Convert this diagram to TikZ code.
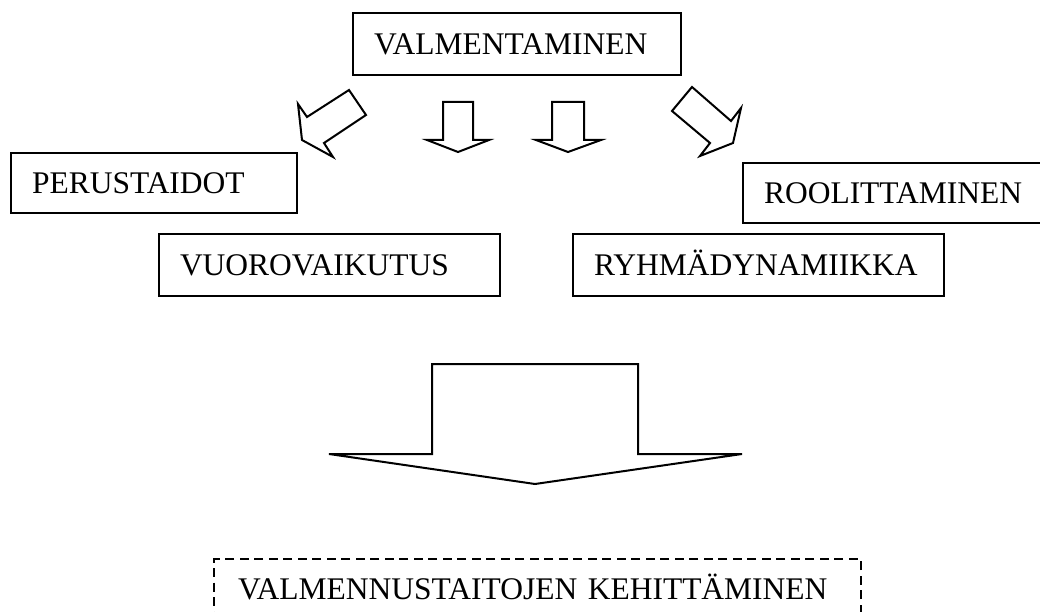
\documentclass[tikz,border=0pt]{standalone}
\usepackage{fontspec}
\setmainfont{Liberation Serif}
\tikzset{
  box/.style={draw, line width=2pt, anchor=north west, inner xsep=21pt, inner ysep=0pt,
    align=left, text height=21pt, text depth=0pt, font=\fontsize{31.5}{36}\selectfont},
  blockarrow/.style={draw, line width=2pt, line join=miter, fill=white}
}
\begin{document}
\begin{tikzpicture}[x=1pt,y=-1pt]
\useasboundingbox (0,0) rectangle (1040,612);
% boxes
\node[box, text width=286pt, minimum height=62pt] (valm) at (352,12) {VALMENTAMINEN};
\node[box, text width=244pt, minimum height=60pt] (perus) at (10,152) {PERUSTAIDOT};
\node[box, text width=268pt, minimum height=60pt] (rooli) at (742,162) {ROOLITTAMINEN};
\node[box, text width=299pt, minimum height=62pt] (vuoro) at (158,233) {VUOROVAIKUTUS};
\node[box, text width=329pt, minimum height=62pt] (ryhma) at (572,233) {RYHMÄDYNAMIIKKA};
\node[box, dash pattern=on 9pt off 5.5pt, inner xsep=24pt, text width=599pt, minimum height=60pt] (goal) at (213,558) {\mbox{VALMENNUSTAITOJEN KEHITTÄMINEN}};
% block arrows
\draw[blockarrow] (302,140) -- (298,104) -- (307,117) -- (349,90) -- (366,115) -- (324,143) -- (333,157) -- cycle;
\draw[blockarrow] (443,102) -- (473,102) -- (473,140) -- (489,140) -- (458,152) -- (427,140) -- (443,140) -- cycle;
\draw[blockarrow] (552,102) -- (584,102) -- (584,140) -- (601,140) -- (568,152) -- (536,140) -- (552,140) -- cycle;
\draw[blockarrow] (692,87) -- (731,121) -- (741,108) -- (733,143) -- (700,156) -- (710,143) -- (672,111) -- cycle;
\draw[blockarrow] (432,364) -- (638,364) -- (638,454) -- (742,454) -- (535,484) -- (329,454) -- (432,454) -- cycle;
\end{tikzpicture}
\end{document}
